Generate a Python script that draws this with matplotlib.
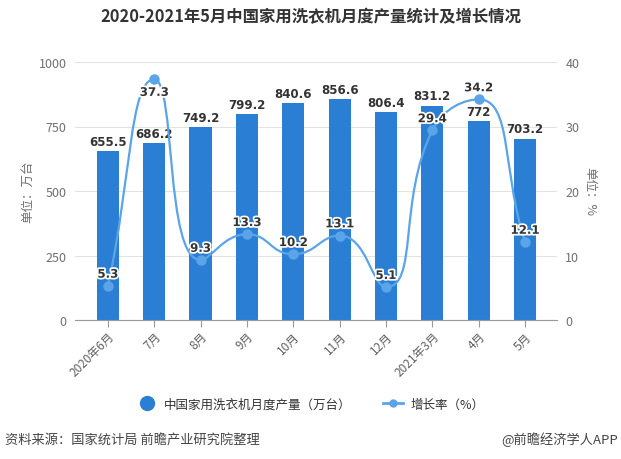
import numpy as np
import matplotlib
matplotlib.use('Agg')
import matplotlib.pyplot as plt
import matplotlib.patheffects as pe
from matplotlib.path import Path
from matplotlib.patches import PathPatch
from matplotlib.lines import Line2D

plt.rcParams['font.family'] = ['Noto Sans CJK SC', 'DejaVu Sans']

# 数据
months = ['2020年6月', '7月', '8月', '9月', '10月', '11月', '12月', '2021年3月', '4月', '5月']
output = [655.5, 686.2, 749.2, 799.2, 840.6, 856.6, 806.4, 831.2, 772, 703.2]
growth = [5.3, 37.3, 9.3, 13.3, 10.2, 13.1, 5.1, 29.4, 34.2, 12.1]

bar_color = '#2a7fd5'
line_color = '#5ba4e8'


def smooth_path(xs, ys, sx, sy, smooth=0.5):
    # 平滑曲线 (像素尺度下计算控制点, 极值点处切线水平)
    px = np.array(xs, dtype=float) * sx
    py = np.array(ys, dtype=float) * sy
    n = len(px)
    cps_in, cps_out = [], []
    for i in range(n):
        prv = max(i - 1, 0)
        nxt = min(i + 1, n - 1)
        vx = (px[nxt] - px[prv]) * smooth
        vy = (py[nxt] - py[prv]) * smooth
        if 0 < i < n - 1 and (py[i] - py[prv]) * (py[nxt] - py[i]) <= 0:
            vy = 0
        d0 = np.hypot(px[i] - px[prv], py[i] - py[prv])
        d1 = np.hypot(px[nxt] - px[i], py[nxt] - py[i])
        r = d1 / (d0 + d1) if d0 + d1 > 0 else 0.5
        cps_out.append((px[i] + vx * r, py[i] + vy * r))
        cps_in.append((px[i] - vx * (1 - r), py[i] - vy * (1 - r)))
    verts = [(px[0], py[0])]
    codes = [Path.MOVETO]
    for i in range(n - 1):
        verts += [cps_out[i], cps_in[i + 1], (px[i + 1], py[i + 1])]
        codes += [Path.CURVE4] * 3
    verts = [(x / sx, y / sy) for x, y in verts]
    return Path(verts, codes)


fig = plt.figure(figsize=(6.21, 4.6), dpi=100)
ax = fig.add_axes([75 / 621, (460 - 321) / 460, (557 - 75) / 621, (321 - 63) / 460])
ax2 = ax.twinx()

x = np.arange(len(months))
ax.bar(x, output, width=0.48, color=bar_color, zorder=2)
for xi, v in zip(x, output):
    ax.text(xi, v + 12, f'{v:g}', ha='center', va='bottom', fontsize=8.5,
            fontweight='bold', color='#333333', family='DejaVu Sans', zorder=5)

ax.set_xlim(-0.71, 9.69)
ax.set_ylim(0, 1000)
ax.set_yticks([0, 250, 500, 750, 1000])
ax.grid(axis='y', color='#e3e3e3', linewidth=0.8, zorder=0)
ax.set_axisbelow(True)
for s in ['top', 'left', 'right']:
    ax.spines[s].set_visible(False)
ax.spines['bottom'].set_color('#999999')
ax.tick_params(axis='y', length=0, labelsize=9, labelcolor='#707070', pad=6)
ax.tick_params(axis='x', length=5, color='#999999', labelsize=8.5, labelcolor='#606060', pad=2)
ax.set_xticks(x)
ax.set_xticklabels(months, rotation=45, ha='right', rotation_mode='anchor')
ax.set_ylabel('单位：万台', fontsize=9, color='#707070', labelpad=3)

ax2.set_ylim(0, 40)
ax2.set_yticks([0, 10, 20, 30, 40])
for s in ['top', 'left', 'right', 'bottom']:
    ax2.spines[s].set_visible(False)
ax2.tick_params(axis='y', length=0, labelsize=9, labelcolor='#707070', pad=6)
ax2.set_ylabel('单位：%', fontsize=9, color='#707070', rotation=270, labelpad=12)

sx = 46.33
sy = 258 / 40
path = smooth_path(x, growth, sx, sy)
ax2.add_patch(PathPatch(path, facecolor='none', edgecolor=line_color, linewidth=1.6, zorder=3))
ax2.plot(x, growth, 'o', color=line_color, markersize=6.5, zorder=4)
for xi, v in zip(x, growth):
    # 最高点的标签放在点下方
    below = v == max(growth)
    ax2.text(xi, v - 1.0 if below else v + 0.8, f'{v:g}', ha='center',
             va='top' if below else 'bottom', fontsize=8.5,
             fontweight='bold', color='#333333', family='DejaVu Sans', zorder=6,
             path_effects=[pe.withStroke(linewidth=2.5, foreground='white')])

# 图例
handles = [
    Line2D([], [], marker='o', linestyle='none', markersize=10, color=bar_color),
    Line2D([], [], marker='o', linestyle='-', markersize=5, linewidth=2, color=line_color),
]
fig.legend(handles, ['中国家用洗衣机月度产量（万台）', '增长率（%）'], loc='center',
           bbox_to_anchor=(0.5, 1 - 405 / 460), ncol=2, frameon=False, fontsize=9,
           handlelength=1.6, columnspacing=2.5, handletextpad=0.6,
           labelcolor='#333333')

fig.text(0.5, 1 - 17 / 460, '2020-2021年5月中国家用洗衣机月度产量统计及增长情况',
         ha='center', va='center', fontsize=11.8, fontweight='bold', color='#333333')
fig.text(5 / 621, 1 - 440 / 460, '资料来源：国家统计局 前瞻产业研究院整理',
         ha='left', va='center', fontsize=9.5, color='#444444')
fig.text(618 / 621, 1 - 440 / 460, '@前瞻经济学人APP',
         ha='right', va='center', fontsize=9.5, color='#444444')

fig.savefig('out.png', dpi=100)
